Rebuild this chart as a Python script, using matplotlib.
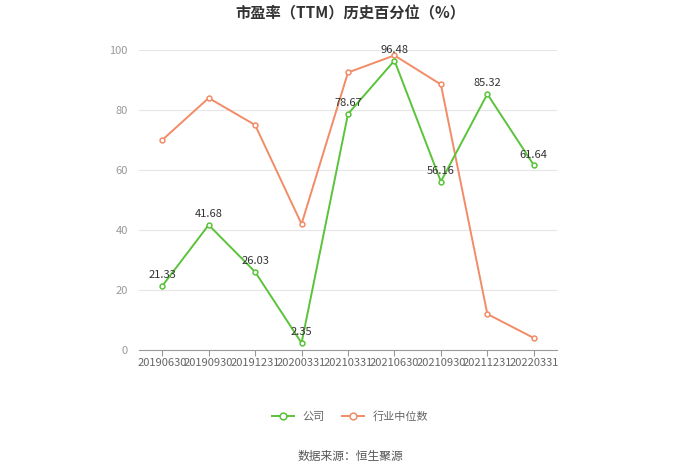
import matplotlib.pyplot as plt

plt.rcParams['font.family'] = ['Noto Sans CJK SC', 'DejaVu Sans']

dates = ['20190630', '20190930', '20191231', '20200331', '20210331',
         '20210630', '20210930', '20211231', '20220331']
company = [21.33, 41.68, 26.03, 2.35, 78.67, 96.48, 56.16, 85.32, 61.64]
industry = [70.0, 84.0, 75.0, 42.0, 92.5, 98.2, 88.5, 12.0, 4.0]

green = '#5ac33a'
orange = '#f28b66'

fig = plt.figure(figsize=(7, 4.74), dpi=100)
ax = fig.add_axes([139 / 700, 1 - 350 / 474, 418 / 700, 300 / 474])

x = list(range(len(dates)))
ax.plot(x, company, color=green, lw=1.4, marker='o', ms=3.5,
        mfc='white', mec=green, mew=1.1, label='公司', zorder=3)
ax.plot(x, industry, color=orange, lw=1.4, marker='o', ms=3.5,
        mfc='white', mec=orange, mew=1.1, label='行业中位数', zorder=2)

for xi, v in zip(x, company):
    ax.annotate(f'{v:.2f}', (xi, v), xytext=(0, 4), textcoords='offset points',
                ha='center', va='bottom', fontsize=8, color='#333333', zorder=5)

ax.set_xlim(-0.5, len(dates) - 0.5)
ax.set_ylim(0, 100)
ax.set_yticks([0, 20, 40, 60, 80, 100])
ax.set_xticks(x)
ax.set_xticklabels(dates)
ax.tick_params(axis='x', length=4, color='#999999', labelsize=8,
               labelcolor='#666666', pad=2)
ax.tick_params(axis='y', length=0, labelsize=8, labelcolor='#999999', pad=8)
ax.grid(axis='y', color='#e6e6e6', lw=0.8)
ax.set_axisbelow(True)
for s in ['top', 'right', 'left']:
    ax.spines[s].set_visible(False)
ax.spines['bottom'].set_color('#999999')

fig.text(0.5, 1 - 13 / 474, '市盈率（TTM）历史百分位（%）', ha='center', va='center',
         fontsize=11, fontweight='bold', color='#333333')
fig.legend(loc='center', bbox_to_anchor=(0.5, 1 - 417 / 474), ncol=2,
           frameon=False, fontsize=8, labelcolor='#666666',
           handlelength=2, columnspacing=1.5, markerscale=1.4)
fig.text(0.5, 1 - 456 / 474, '数据来源：恒生聚源', ha='center', va='center',
         fontsize=8.5, color='#555555')

fig.savefig('out.png', dpi=100)
